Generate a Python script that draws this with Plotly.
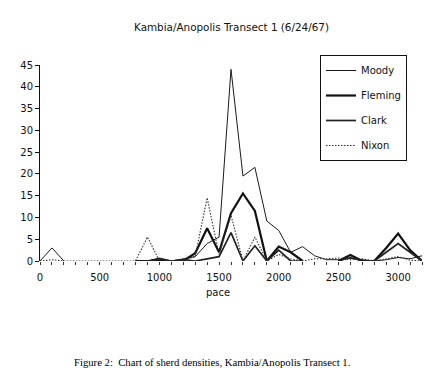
import plotly.graph_objects as go

N = None
pace = list(range(0, 3300, 100))

moody = [0, 3, 0, N, N, N, N, N, 0, 0, 0.7, 0, 0.5, 1, 4, 5.5, 44, 19.5, 21.5, 9.2, 7, 2, 3.3, 1.2, 0.3, 0.3, 0.6, 0.3, 0, 0.3, 0.8, 0.5, 1.2]
fleming = [N, N, N, N, N, N, N, N, 0, 0, 0, 0, 0, 1.8, 7.5, 2, 11, 15.5, 11.5, 0, 3.3, 2, 0, N, N, 0, 1.4, 0, 0, 3, 6.3, 2.5, 0]
clark = [N, N, N, N, N, N, N, N, 0, 0, 0.5, 0, 0.3, 0, 0.5, 1, 6.5, 0, 3.5, 0, 2.5, 0, 0, N, N, 0, 0.8, 0, 0, 2, 4, 2, 0]
nixon = [0, 0.3, 0, 0, 0, 0, 0, 0, 0, 5.5, 0, 0, 0.3, 1, 14.5, 1.5, 10.5, 0, 5.5, 0, 1.5, 0.5, 0, 0.5, 0.5, 0.7, 0.3, 0.5, 0, 0.5, 1, 0.2, 0]

names = ["Moody", "Fleming", "Clark", "Nixon"]
series = [moody, fleming, clark, nixon]
styles = [
    dict(color="#1a1a1a", width=1, dash="solid"),
    dict(color="#111111", width=2.2, dash="solid"),
    dict(color="#222222", width=1.7, dash="solid"),
    dict(color="#333333", width=1.1, dash="1.5px,1.5px"),
]

x_ticks = [0, 500, 1000, 1500, 2000, 2500, 3000]
y_ticks = [0, 5, 10, 15, 20, 25, 30, 35, 40, 45]

fig = go.Figure()
for name, ys, st in zip(names, series, styles):
    fig.add_trace(go.Scatter(x=pace, y=ys, mode="lines", name=name, line=st,
                             legendgroup=name, connectgaps=False))

font = "DejaVu Sans"
# page body has an 8px margin; plot area target in window px: x 40..422, y 65..261
fig.update_layout(
    width=425, height=377,
    margin=dict(l=32, r=11, t=57, b=124),
    paper_bgcolor="white", plot_bgcolor="white",
    font=dict(family=font, size=10, color="#111"),
    showlegend=True,
    legend=dict(x=(320 - 40) / 382, y=(261 - 55) / 196, xanchor="left", yanchor="top",
                bordercolor="#111", borderwidth=1, bgcolor="white",
                font=dict(family=font, size=10), itemwidth=30,
                tracegroupgap=6, traceorder="grouped"),
    xaxis=dict(range=[0, 3200], tickvals=x_ticks, ticktext=[str(v) for v in x_ticks],
               showgrid=False, zeroline=False, showline=False,
               ticks="outside", ticklen=3, tickcolor="#333", ticklabelstandoff=4,
               tickfont=dict(family=font, size=10),
               minor=dict(dtick=100, tick0=0, ticks="outside", ticklen=3, tickcolor="#333"),
               fixedrange=True),
    yaxis=dict(range=[0, 45], tickvals=y_ticks, showgrid=False, zeroline=False,
               showline=True, linecolor="#111", linewidth=1,
               ticks="outside", ticklen=4, tickcolor="#111",
               tickfont=dict(family=font, size=10), fixedrange=True),
    annotations=[
        dict(text="Kambia/Anopolis Transect 1 (6/24/67)", xref="paper", yref="paper",
             x=(231 - 40) / 382, y=(261 - 27) / 196, xanchor="center", yanchor="middle",
             showarrow=False, font=dict(family=font, size=10.4)),
        dict(text="pace", xref="paper", yref="paper",
             x=(218 - 40) / 382, y=(261 - 292) / 196, xanchor="center", yanchor="middle",
             showarrow=False, font=dict(family=font, size=10)),
        dict(text="Figure 2:\u00a0 Chart of sherd densities, Kambia/Anopolis Transect 1.",
             xref="paper", yref="paper",
             x=(212 - 40) / 382, y=(261 - 362) / 196, xanchor="center", yanchor="middle",
             showarrow=False, font=dict(family="Liberation Serif", size=10.7, color="#000")),
    ],
)

fig.write_html("out.html")
